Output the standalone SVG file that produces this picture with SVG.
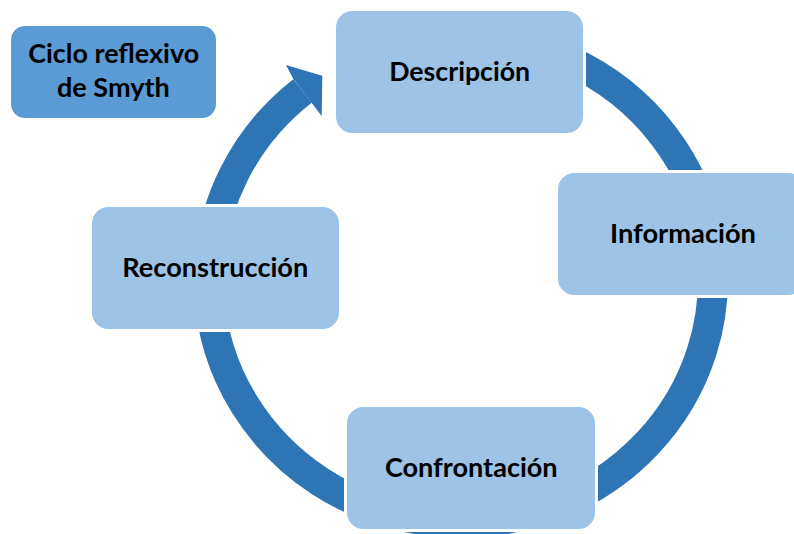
<svg xmlns="http://www.w3.org/2000/svg" width="794" height="534" viewBox="0 0 794 534">
<style>
.ring{fill:none;stroke:#2E75B6;stroke-width:30;stroke-linecap:butt}
.head{fill:#2E75B6}
.box{fill:#9DC3E6;stroke:#FFFFFF;stroke-width:3}
.title{fill:#5B9BD5;stroke:#FFFFFF;stroke-width:2}
.lbl{font-family:Lato,"Open Sans","Liberation Sans",sans-serif;font-weight:bold;font-size:26px;fill:#000000;text-anchor:middle}
</style>
<rect width="794" height="534" fill="#FFFFFF"/>
<g id="connectors">
<path class="ring" d="M 461 37 A 252 243 0 1 1 302.5 91"/>
<polygon class="head" points="311.7,102.9 293.3,79.1 286,65 322.3,75.7 321.7,116 313.3,105"/>
</g>
<g id="title">
<rect class="title" x="10" y="25" width="207" height="94" rx="15"/>
<text class="lbl" x="113.7" y="63.3" textLength="171" lengthAdjust="spacingAndGlyphs">Ciclo reflexivo</text>
<text class="lbl" x="113.4" y="96.7" textLength="113" lengthAdjust="spacingAndGlyphs">de Smyth</text>
</g>
<g id="descripcion">
<rect class="box" x="334.5" y="9.5" width="250" height="125" rx="18"/>
<text class="lbl" x="459.7" y="81" textLength="141" lengthAdjust="spacingAndGlyphs">Descripción</text>
</g>
<g id="informacion">
<rect class="box" x="556.5" y="171.5" width="250" height="125" rx="18"/>
<text class="lbl" x="683" y="242.7" textLength="146" lengthAdjust="spacingAndGlyphs">Información</text>
</g>
<g id="confrontacion">
<rect class="box" x="345.5" y="405.5" width="251" height="125" rx="18"/>
<text class="lbl" x="471.3" y="477.3" textLength="172.7" lengthAdjust="spacingAndGlyphs">Confrontación</text>
</g>
<g id="reconstruccion">
<rect class="box" x="90.5" y="205.5" width="250" height="125" rx="18"/>
<text class="lbl" x="215.3" y="276.7" textLength="186" lengthAdjust="spacingAndGlyphs">Reconstrucción</text>
</g>
</svg>
